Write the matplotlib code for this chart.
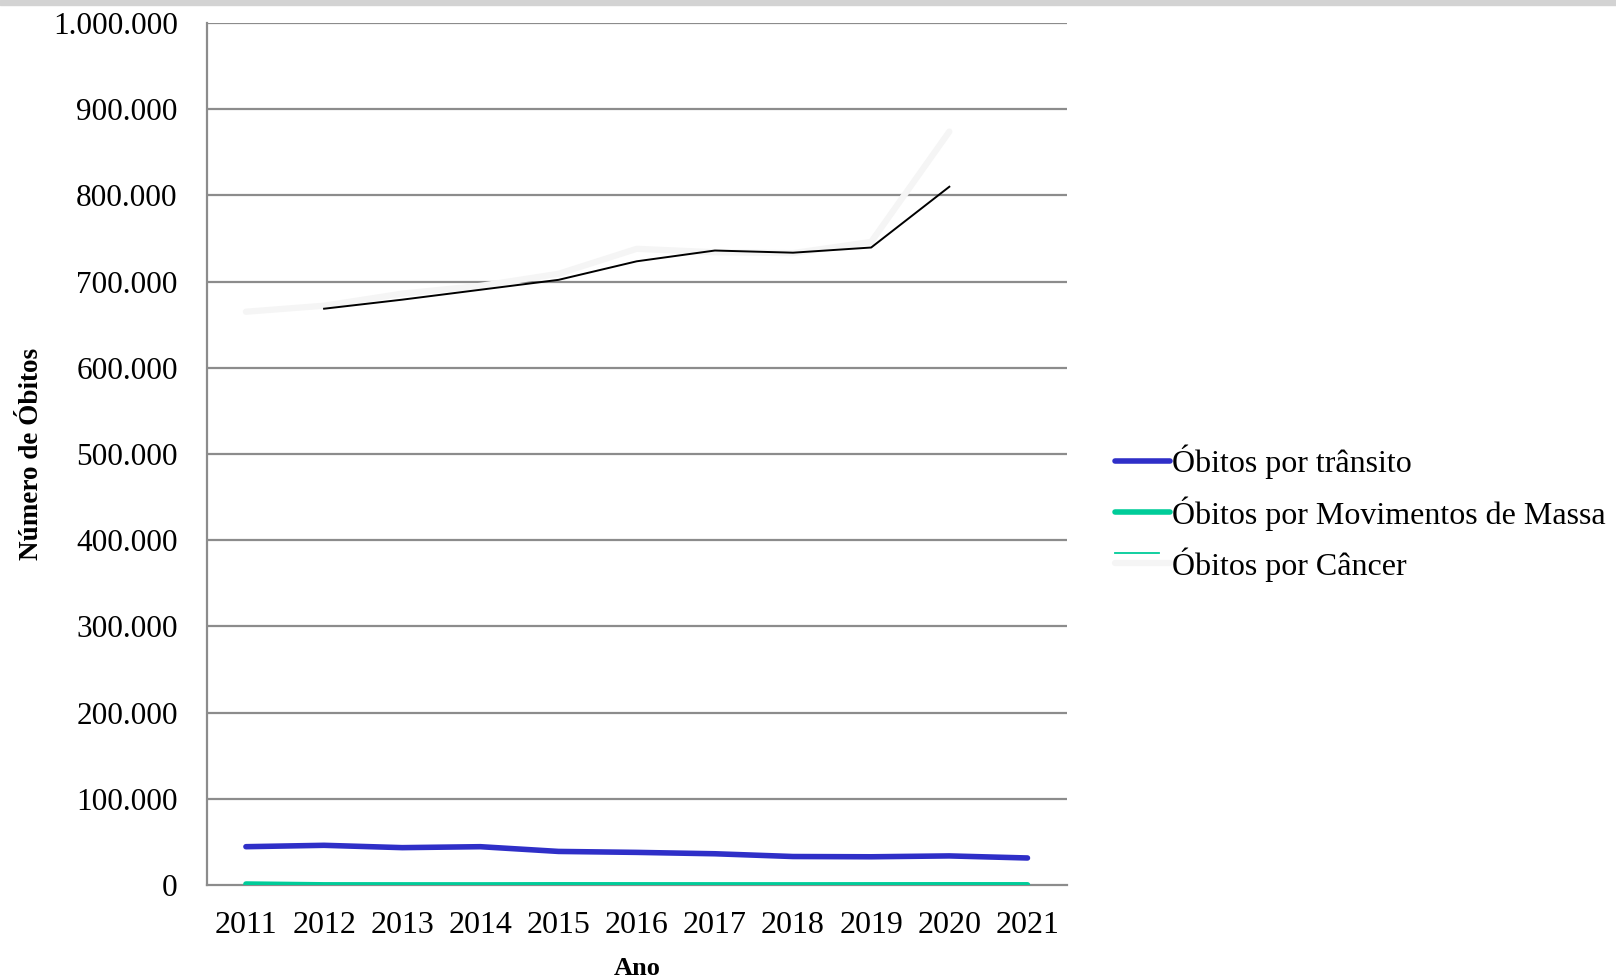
import numpy as np
import pandas as pd
import matplotlib
matplotlib.use("Agg")
import matplotlib.pyplot as plt
from matplotlib.lines import Line2D
from matplotlib.legend_handler import HandlerLine2D
from matplotlib.ticker import FuncFormatter

plt.rcParams["font.family"] = ["Liberation Serif", "DejaVu Serif"]

anos = [2011, 2012, 2013, 2014, 2015, 2016, 2017, 2018, 2019, 2020, 2021]
obitos_transito = [44400, 46000, 43300, 44400, 38900, 37800, 36200, 33000, 32700, 33700, 31300]
obitos_massa = [1100, 150, 100, 80, 200, 150, 120, 100, 150, 200, 180]
anos_cancer = [2011, 2012, 2013, 2014, 2015, 2016, 2017, 2018, 2019, 2020]
obitos_cancer = [665000, 672000, 686000, 695000, 709000, 738000, 734000, 733000, 746000, 874000]

cor_transito = "#2f2fc8"
cor_massa = "#00cc99"
cor_cancer = "#f5f5f5"
cor_grade = "#8c8c8c"

# media movel de 2 periodos (linha de tendencia)
media_movel = pd.Series(obitos_cancer, index=anos_cancer).rolling(2).mean().dropna()


class HandlerCancer(HandlerLine2D):
    # entrada da legenda com um traco verde fino acima
    def create_artists(self, legend, orig_handle, xdescent, ydescent, width, height, fontsize, trans):
        artists = super().create_artists(legend, orig_handle, xdescent, ydescent,
                                         width, height, fontsize, trans)
        extra = Line2D([-xdescent, -xdescent + 0.8 * width], [height * 0.95] * 2,
                       color=cor_massa, lw=1.3, transform=trans)
        return list(artists) + [extra]


fig = plt.figure(figsize=(16.16, 9.77), dpi=100)
ax = fig.add_axes([0.128, 0.0942, 0.532, 0.8823])

# faixa cinza no topo
fig.patches.append(plt.Rectangle((0, 0.9945), 1, 0.0055, transform=fig.transFigure,
                                 color="#d3d3d3", zorder=0))

for v in range(100000, 1000001, 100000):
    ax.axhline(v, color=cor_grade, lw=1.6, zorder=1)

l1, = ax.plot(anos, obitos_transito, color=cor_transito, lw=4.0,
              solid_capstyle="round", solid_joinstyle="round", zorder=4)
l2, = ax.plot(anos, obitos_massa, color=cor_massa, lw=4.0,
              solid_capstyle="round", solid_joinstyle="round", zorder=4)
l3, = ax.plot(anos_cancer, obitos_cancer, color=cor_cancer, lw=4.5,
              solid_capstyle="round", solid_joinstyle="round", zorder=3)
ax.plot(media_movel.index, media_movel.values, color="black", lw=1.4, zorder=5)

ax.set_xlim(2010.5, 2021.5)
ax.set_ylim(0, 1000000)
ax.set_xticks(anos)
ax.set_yticks(range(0, 1000001, 100000))
ax.yaxis.set_major_formatter(FuncFormatter(lambda v, p: f"{int(v):,}".replace(",", ".")))
ax.tick_params(axis="both", length=0)
ax.tick_params(axis="y", pad=21, labelsize=22.5)
ax.tick_params(axis="x", pad=19, labelsize=23)

for s in ["top", "right"]:
    ax.spines[s].set_visible(False)
ax.spines["left"].set_color(cor_grade)
ax.spines["left"].set_linewidth(1.6)
ax.spines["bottom"].set_color(cor_grade)
ax.spines["bottom"].set_linewidth(1.6)

ax.set_xlabel("Ano", fontsize=19, fontweight="bold", labelpad=12)
ax.set_ylabel("Número de Óbitos", fontsize=19.5, fontweight="bold")
ax.yaxis.set_label_coords(-0.19, 0.5)

fig.legend([l1, l2, l3],
           ["Óbitos por trânsito", "Óbitos por Movimentos de Massa", "Óbitos por Câncer"],
           loc="center left", bbox_to_anchor=(1115 / 1616, 0.4746),
           frameon=False, fontsize=23, handlelength=1.72, handletextpad=0.05,
           labelspacing=0.52, borderpad=0, borderaxespad=0,
           handler_map={l3: HandlerCancer()})

fig.savefig("out.png", dpi=100)
